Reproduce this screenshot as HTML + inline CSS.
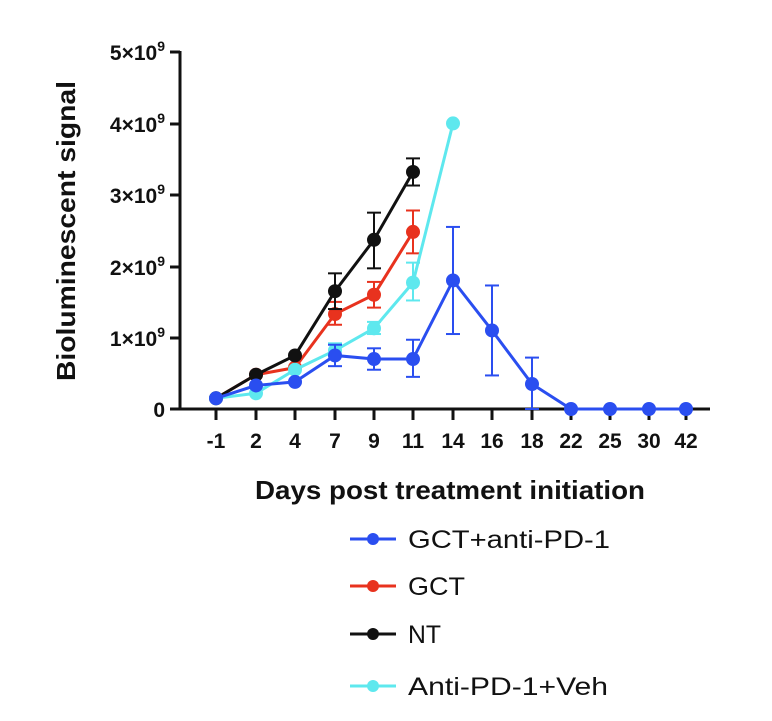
<!DOCTYPE html>
<html><head><style>body{margin:0;background:#fff}</style></head><body>
<svg width="772" height="716" xmlns="http://www.w3.org/2000/svg" font-family="Liberation Sans, sans-serif">
<rect width="772" height="716" fill="#fff"/>
<g stroke="#111" stroke-width="3" fill="none">
<line x1="180" y1="51" x2="180" y2="410"/>
<line x1="178" y1="409" x2="710" y2="409"/>
<line x1="170" y1="52" x2="180" y2="52"/><line x1="170" y1="124" x2="180" y2="124"/><line x1="170" y1="195" x2="180" y2="195"/><line x1="170" y1="267" x2="180" y2="267"/><line x1="170" y1="338" x2="180" y2="338"/><line x1="170" y1="409" x2="180" y2="409"/>
</g>
<g font-weight="bold" font-size="21" fill="#111" text-anchor="end">
<text x="165" y="60">5×10<tspan font-size="14" dy="-9">9</tspan></text>
<text x="165" y="132">4×10<tspan font-size="14" dy="-9">9</tspan></text>
<text x="165" y="203">3×10<tspan font-size="14" dy="-9">9</tspan></text>
<text x="165" y="275">2×10<tspan font-size="14" dy="-9">9</tspan></text>
<text x="165" y="346">1×10<tspan font-size="14" dy="-9">9</tspan></text>
<text x="165" y="417">0</text>
</g>
<text transform="translate(75,231) rotate(-90)" text-anchor="middle" font-weight="bold" font-size="26" fill="#111" textLength="300" lengthAdjust="spacingAndGlyphs">Bioluminescent signal</text>
<text x="450" y="499" text-anchor="middle" font-weight="bold" font-size="26" fill="#111" textLength="390" lengthAdjust="spacingAndGlyphs">Days post treatment initiation</text>
<g font-size="25" fill="#111">
<line x1="350" y1="539" x2="396" y2="539" stroke="#2a4ef0" stroke-width="3"/><circle cx="373" cy="539" r="6" fill="#2a4ef0"/><text x="408" y="548" textLength="202" lengthAdjust="spacingAndGlyphs">GCT+anti-PD-1</text>
<line x1="350" y1="586" x2="396" y2="586" stroke="#e8321e" stroke-width="3"/><circle cx="373" cy="586" r="6" fill="#e8321e"/><text x="408" y="595" textLength="57" lengthAdjust="spacingAndGlyphs">GCT</text>
<line x1="350" y1="634" x2="396" y2="634" stroke="#111" stroke-width="3"/><circle cx="373" cy="634" r="6" fill="#111"/><text x="408" y="643" textLength="33" lengthAdjust="spacingAndGlyphs">NT</text>
<line x1="350" y1="686" x2="396" y2="686" stroke="#5ee8ee" stroke-width="3"/><circle cx="373" cy="686" r="6" fill="#5ee8ee"/><text x="408" y="695" textLength="200" lengthAdjust="spacingAndGlyphs">Anti-PD-1+Veh</text>
</g>
</svg>
<script>
const X=[216,256,295,335,374,413,453,492,532,571,610,649,686];
const labs=["-1","2","4","7","9","11","14","16","18","22","25","30","42"];
const Y=v=>409-71.4*v;
const ns="http://www.w3.org/2000/svg";
const svg=document.querySelector('svg');
function el(t,a,p){const e=document.createElementNS(ns,t);for(const k in a)e.setAttribute(k,a[k]);(p||svg).appendChild(e);return e;}
X.forEach((x,i)=>{el('line',{x1:x,y1:409,x2:x,y2:420,stroke:'#111','stroke-width':3});
const t=el('text',{x:x,y:448,'text-anchor':'middle','font-weight':'bold','font-size':21,fill:'#111'});t.textContent=labs[i];});
const S=[
{c:'#e8321e',v:[0.15,0.48,0.58,1.33,1.60,2.48],e:{3:[1.18,1.5],4:[1.42,1.78],5:[2.18,2.78]}},
{c:'#111',v:[0.15,0.48,0.75,1.65,2.37,3.32],e:{3:[1.4,1.9],4:[1.97,2.75],5:[3.13,3.51]}},
{c:'#5ee8ee',v:[0.15,0.22,0.55,0.82,1.13,1.77,4.0],e:{3:[0.75,0.92],4:[1.05,1.22],5:[1.52,2.05]}},
{c:'#2a4ef0',v:[0.15,0.33,0.38,0.75,0.70,0.70,1.80,1.10,0.35,0,0,0,0],e:{3:[0.6,0.9],4:[0.55,0.85],5:[0.45,0.97],6:[1.05,2.55],7:[0.47,1.73],8:[0,0.72]}}];
S.forEach(s=>{
for(const i in s.e){const [a,b]=s.e[i];const x=X[i];
el('line',{x1:x,y1:Y(a),x2:x,y2:Y(b),stroke:s.c,'stroke-width':2});
el('line',{x1:x-7,y1:Y(a),x2:x+7,y2:Y(a),stroke:s.c,'stroke-width':2});
el('line',{x1:x-7,y1:Y(b),x2:x+7,y2:Y(b),stroke:s.c,'stroke-width':2});}
el('polyline',{points:s.v.map((v,i)=>X[i]+','+Y(v)).join(' '),fill:'none',stroke:s.c,'stroke-width':3});
s.v.forEach((v,i)=>el('circle',{cx:X[i],cy:Y(v),r:7,fill:s.c}));
});
</script>
</body></html>
